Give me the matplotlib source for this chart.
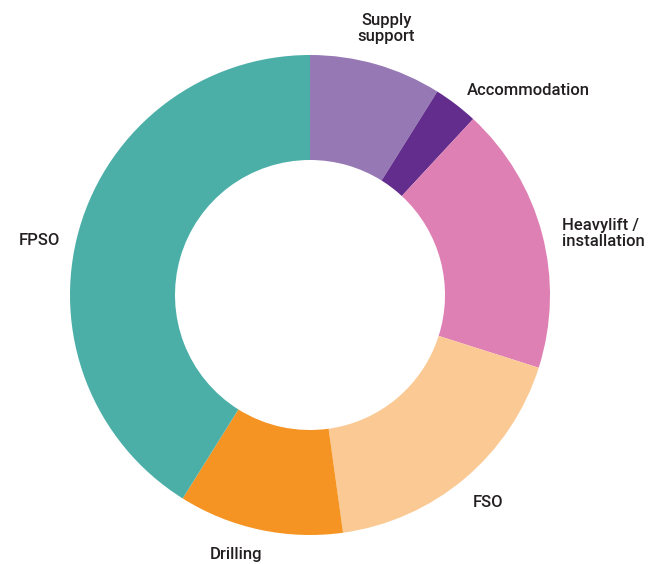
import matplotlib.pyplot as plt
import numpy as np

categories = ["Supply\nsupport", "Accommodation", "Heavylift /\ninstallation", "FSO", "Drilling", "FPSO"]
values = [8.9, 3.0, 18.0, 17.9, 11.1, 41.1]
colors = ["#9679B4", "#622D8C", "#DE80B3", "#FBC993", "#F59423", "#4BAFA8"]
label_dist = [1.155, 1.075, 1.08, 1.14, 1.125, 1.066]
label_turn = [0.0, 0.0, -1.1, 0.5, -3.9, 3.8]
label_ha = ["center", "left", "left", "center", "center", "right"]

plt.rcParams['font.family'] = ['Roboto', 'Liberation Sans', 'DejaVu Sans']

fig = plt.figure(figsize=(6.57, 5.64), dpi=100)
ax = fig.add_axes([0, 0, 1, 1])
wedges, _ = ax.pie(values, colors=colors, startangle=90, counterclock=False,
                   radius=1.0, wedgeprops=dict(width=0.4375, linewidth=0))

for w, lab, d, t, ha in zip(wedges, categories, label_dist, label_turn, label_ha):
    mid = np.deg2rad((w.theta1 + w.theta2) / 2 + t)
    ax.text(d * np.cos(mid), d * np.sin(mid), lab, ha=ha, va="center",
            fontsize=12, fontweight="medium", color="#231F20", linespacing=1.05)

ax.set_xlim(-310 / 240, (657 - 310) / 240)
ax.set_ylim(-(564 - 295) / 240, 295 / 240)
ax.set_aspect("equal")
ax.axis("off")
fig.savefig("out.png", dpi=100)
